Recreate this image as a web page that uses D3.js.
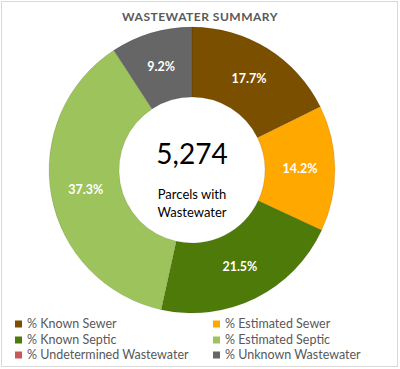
<!DOCTYPE html>
<html><head><meta charset="utf-8">
<script src="https://cdn.jsdelivr.net/npm/d3@7"></script>
<style>
html,body{margin:0;padding:0;background:#fff;}
svg{display:block;font-family:Lato,"Open Sans",sans-serif;}
</style></head>
<body>
<svg id="chart" width="400" height="369"></svg>
<script>
const categories = ["% Known Sewer","% Estimated Sewer","% Known Septic","% Estimated Septic","% Undetermined Wastewater","% Unknown Wastewater"];
const values = [17.7, 14.2, 21.5, 37.3, 0, 9.2];
const colors = ["#7a5000","#ffa800","#4e7a0a","#9dc45c","#c9585a","#666666"];
const title = "WASTEWATER SUMMARY";
const totalLabel = "5,274";
const subLabel = ["Parcels with","Wastewater"];

const svg = d3.select("#chart");
svg.append("rect").attr("x",1.5).attr("y",1.5).attr("width",396).attr("height",365)
  .attr("fill","#fff").attr("stroke","#d9d9d9");

svg.append("text").attr("x",200).attr("y",21).attr("text-anchor","middle")
  .attr("font-size",12).attr("font-weight","bold").attr("fill","#595959")
  .attr("letter-spacing",0.5).text(title);

const cx = 192, cy = 170, R = 143, r0 = 73;
const g = svg.append("g").attr("transform",`translate(${cx},${cy})`);
const data = categories.map((c,i)=>({c, v: values[i], col: colors[i]}));
const pie = d3.pie().value(d=>d.v).sort(null);
const arc = d3.arc().innerRadius(r0).outerRadius(R);
const arcs = pie(data);
g.selectAll("path").data(arcs.filter(d=>d.data.v>0)).join("path")
  .attr("d",arc).attr("fill",d=>d.data.col)
  .attr("stroke","rgba(0,0,0,0.12)").attr("stroke-width",0.8);
g.selectAll("text.lbl").data(arcs.filter(d=>d.data.v>0)).join("text")
  .attr("class","lbl")
  .attr("transform",d=>`translate(${arc.centroid(d)})`)
  .attr("text-anchor","middle").attr("dy","0.35em")
  .attr("font-size",12.5).attr("font-weight","bold").attr("fill","#fff")
  .text(d=>d3.format(".1f")(d.data.v)+"%");

g.append("text").attr("x",0).attr("y",-6).attr("text-anchor","middle")
  .attr("font-size",28).attr("fill","#000").text(totalLabel);
subLabel.forEach((t,i)=>{
  g.append("text").attr("x",0).attr("y",29+i*18).attr("text-anchor","middle")
   .attr("font-size",13).attr("fill","#000").text(t);
});

const legend = svg.append("g");
const colX = [15, 213], rowY = [324, 340, 355];
data.forEach((d,i)=>{
  const x = colX[i%2], y = rowY[Math.floor(i/2)];
  legend.append("rect").attr("x",x).attr("y",y-3.5).attr("width",7).attr("height",7).attr("fill",d.col);
  legend.append("text").attr("x",x+12).attr("y",y).attr("dy","0.35em")
    .attr("font-size",12.5).attr("fill","#595959").text(d.c);
});
</script>
</body></html>
